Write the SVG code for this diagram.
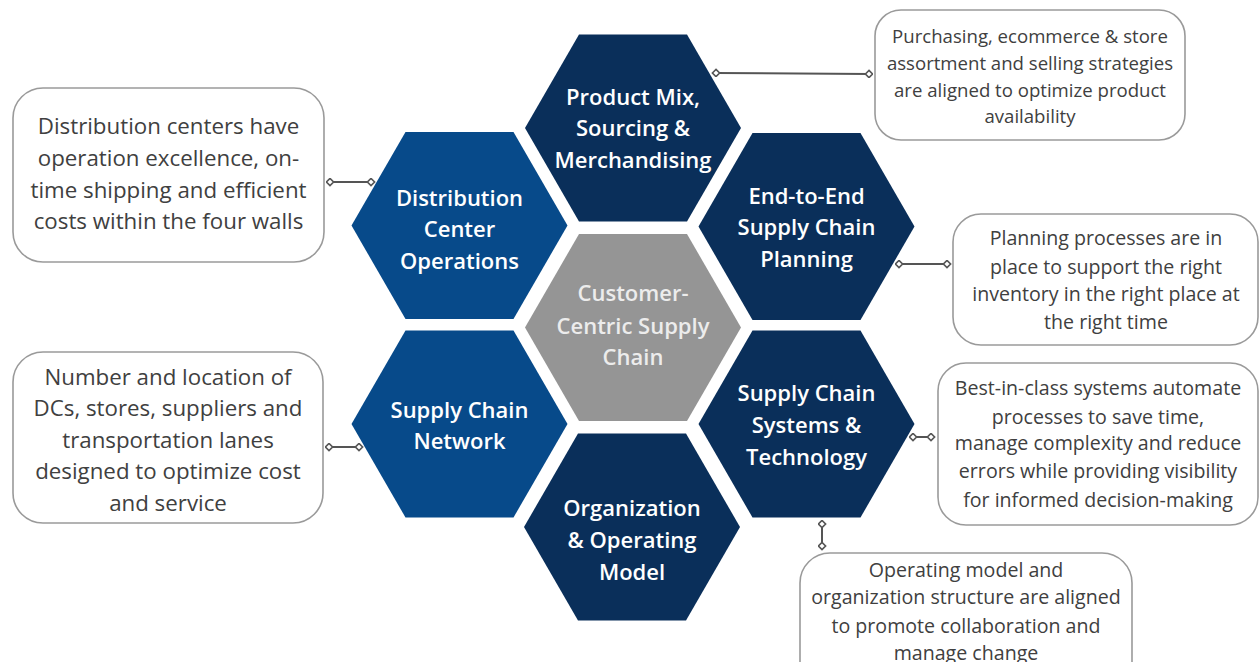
<svg xmlns="http://www.w3.org/2000/svg" xmlns:xlink="http://www.w3.org/1999/xlink" width="1260" height="662" viewBox="0 0 1260 662">
<style>
.hexdark{fill:#0a2f5a}
.hexmid{fill:#074a8a}
.hexgray{fill:#959595}
.ht{font-family:"Open Sans","Noto Sans","Liberation Sans",sans-serif;font-size:22px;font-weight:600;fill:#ffffff;text-anchor:middle}
.gt{fill:#ececec}
.box{fill:#ffffff;stroke:#9a9a9a;stroke-width:1.6}
.bt{font-family:"Open Sans","Noto Sans","Liberation Sans",sans-serif;font-size:19.6px;fill:#404040;text-anchor:middle}
.b20{font-size:22.3px}
.b18{font-size:18.6px}
.conn{stroke:#555555;stroke-width:2;fill:none;marker-start:url(#dia);marker-end:url(#dia)}
</style>
<defs>
<polygon id="hex" points="-108,0 -54,-93.5 54,-93.5 108,0 54,93.5 -54,93.5"/>
<marker id="dia" viewBox="0 0 10 10" refX="5" refY="5" markerWidth="9" markerHeight="9" markerUnits="userSpaceOnUse" orient="auto">
<path d="M1,5 L5,1 L9,5 L5,9 Z" fill="#ffffff" stroke="#555555" stroke-width="1.8"/>
</marker>
</defs>
<rect width="1260" height="662" fill="#ffffff"/>

<g id="hex-product">
<use xlink:href="#hex" href="#hex" x="633" y="128" class="hexdark"/>
<text class="ht" x="633" y="104.5">Product Mix,</text>
<text class="ht" x="633" y="136">Sourcing &amp;</text>
<text class="ht" x="633" y="167.5">Merchandising</text>
</g>
<g id="hex-dc">
<use xlink:href="#hex" href="#hex" x="459.5" y="225.5" class="hexmid"/>
<text class="ht" x="459.5" y="205.5">Distribution</text>
<text class="ht" x="459.5" y="237">Center</text>
<text class="ht" x="459.5" y="269">Operations</text>
</g>
<g id="hex-e2e">
<use xlink:href="#hex" href="#hex" x="806.5" y="226.5" class="hexdark"/>
<text class="ht" x="806.5" y="203.5">End-to-End</text>
<text class="ht" x="806.5" y="235">Supply Chain</text>
<text class="ht" x="806.5" y="266.5">Planning</text>
</g>
<g id="hex-center">
<use xlink:href="#hex" href="#hex" x="633" y="327.5" class="hexgray"/>
<text class="ht gt" x="633" y="300.5">Customer-</text>
<text class="ht gt" x="633" y="333.5">Centric Supply</text>
<text class="ht gt" x="633" y="364.5">Chain</text>
</g>
<g id="hex-network">
<use xlink:href="#hex" href="#hex" x="459.5" y="424" class="hexmid"/>
<text class="ht" x="459.5" y="417.5">Supply Chain</text>
<text class="ht" x="459.5" y="449">Network</text>
</g>
<g id="hex-systems">
<use xlink:href="#hex" href="#hex" x="806.5" y="424" class="hexdark"/>
<text class="ht" x="806.5" y="400.5">Supply Chain</text>
<text class="ht" x="806.5" y="432.5">Systems &amp;</text>
<text class="ht" x="806.5" y="464.5">Technology</text>
</g>
<g id="hex-org">
<use xlink:href="#hex" href="#hex" x="632" y="527" class="hexdark"/>
<text class="ht" x="632" y="515.5">Organization</text>
<text class="ht" x="632" y="547.5">&amp; Operating</text>
<text class="ht" x="632" y="579.5">Model</text>
</g>

<g id="box-product">
<rect class="box" x="875" y="10" width="310" height="130" rx="26"/>
<text class="bt b18" x="1030" y="43">Purchasing, ecommerce &amp; store</text>
<text class="bt b18" x="1030" y="70">assortment and selling strategies</text>
<text class="bt b18" x="1030" y="96.5">are aligned to optimize product</text>
<text class="bt b18" x="1030" y="123">availability</text>
</g>
<g id="box-dc">
<rect class="box" x="13" y="88" width="311" height="174" rx="30"/>
<text class="bt b20" x="168.5" y="133.5">Distribution centers have</text>
<text class="bt b20" x="168.5" y="165.5">operation excellence, on-</text>
<text class="bt b20" x="168.5" y="197.5">time shipping and efficient</text>
<text class="bt b20" x="168.5" y="228.5">costs within the four walls</text>
</g>
<g id="box-planning">
<rect class="box" x="953" y="214" width="305" height="131" rx="28"/>
<text class="bt" x="1106" y="245">Planning processes are in</text>
<text class="bt" x="1106" y="273.5">place to support the right</text>
<text class="bt" x="1106" y="300.5">inventory in the right place at</text>
<text class="bt" x="1106" y="329">the right time</text>
</g>
<g id="box-network">
<rect class="box" x="13" y="352" width="310" height="171" rx="30"/>
<text class="bt b20" x="168" y="384.5">Number and location of</text>
<text class="bt b20" x="168" y="415.5">DCs, stores, suppliers and</text>
<text class="bt b20" x="168" y="447.5">transportation lanes</text>
<text class="bt b20" x="168" y="478.5">designed to optimize cost</text>
<text class="bt b20" x="168" y="510.5">and service</text>
</g>
<g id="box-systems">
<rect class="box" x="938" y="363" width="320" height="162" rx="28"/>
<text class="bt" x="1098" y="394.5">Best-in-class systems automate</text>
<text class="bt" x="1098" y="423.5">processes to save time,</text>
<text class="bt" x="1098" y="449.5">manage complexity and reduce</text>
<text class="bt" x="1098" y="477.5">errors while providing visibility</text>
<text class="bt" x="1098" y="506.5">for informed decision-making</text>
</g>
<g id="box-org">
<rect class="box" x="800" y="553" width="332" height="150" rx="30"/>
<text class="bt" x="966" y="576.5">Operating model and</text>
<text class="bt" x="966" y="603.5">organization structure are aligned</text>
<text class="bt" x="966" y="632.5">to promote collaboration and</text>
<text class="bt" x="966" y="659.5">manage change</text>
</g>

<g id="connectors">
<line class="conn" x1="716" y1="73" x2="869" y2="74"/>
<line class="conn" x1="330" y1="182" x2="371" y2="182"/>
<line class="conn" x1="899" y1="264" x2="947" y2="264"/>
<line class="conn" x1="913" y1="437" x2="931" y2="437"/>
<line class="conn" x1="822" y1="524" x2="822" y2="546"/>
<line class="conn" x1="329" y1="447" x2="359" y2="447"/>
</g>
</svg>
